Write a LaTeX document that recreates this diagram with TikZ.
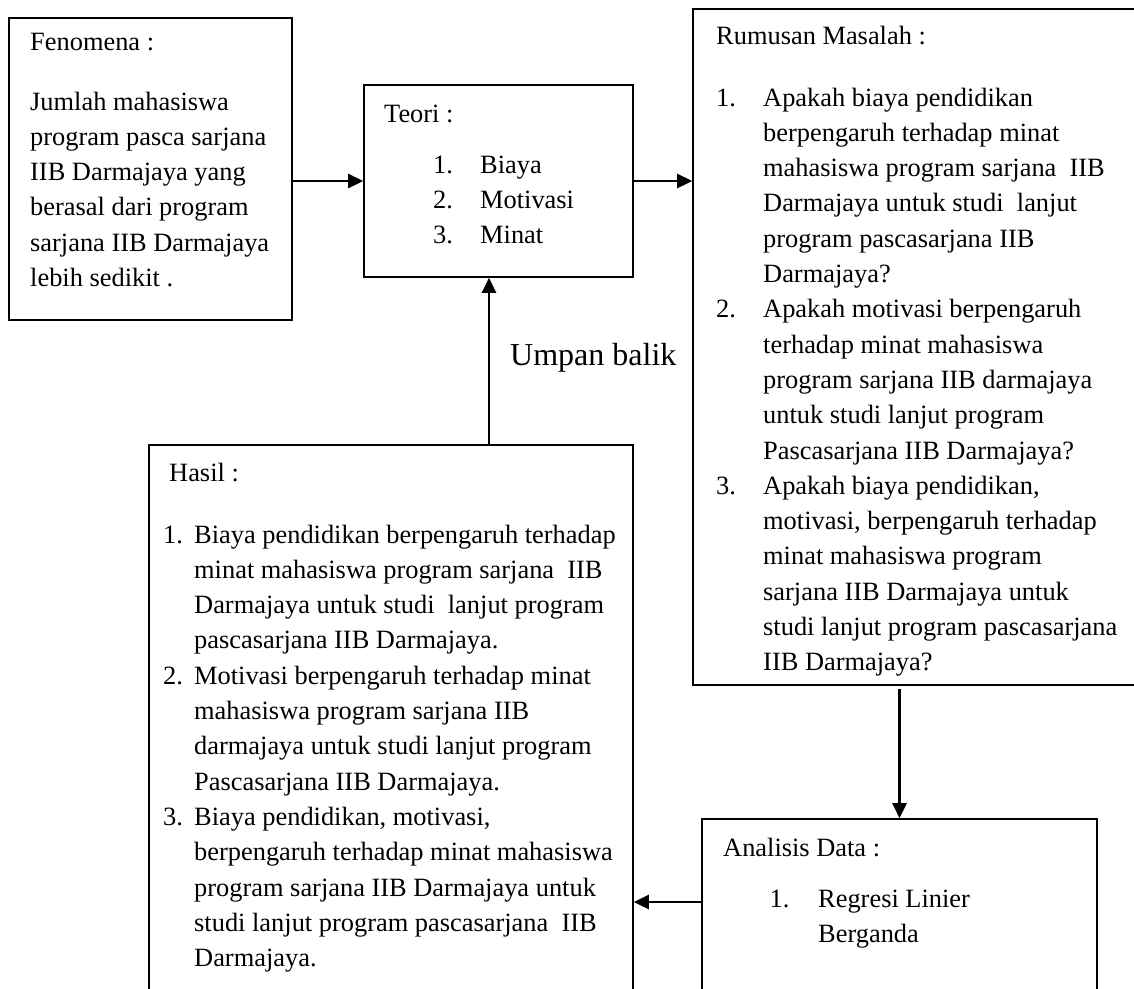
\documentclass[tikz,border=0pt]{standalone}
\usepackage{fontspec}
\setmainfont{Liberation Serif}
\usepackage{tikz}
\usetikzlibrary{arrows.meta}
\usetikzlibrary{calc}

\begin{document}
\begin{tikzpicture}[x=1pt,y=-1pt,
  box/.style={draw=black, line width=1.6pt, inner sep=0pt},
  txt/.style={anchor=base west, inner sep=0pt, font=\fontsize{26.4}{35.3}\selectfont},
  conn/.style={line width=2.6pt, -{Triangle[length=15pt,width=14pt]}}]
  \useasboundingbox (0,0) rectangle (1134,988);
  \clip (0,0) rectangle (1134,988);
  \fill[white] (0,0) rectangle (1134,988);
%% boxes
  \node[box, minimum width=283pt, minimum height=302pt] (feno) at (150.5,169) {};
  \node[box, minimum width=269pt, minimum height=192pt] (teori) at (498.5,181) {};
  \node[box, minimum width=480pt, minimum height=676pt] (rumusan) at (933,347) {};
  \node[box, minimum width=484pt, minimum height=570pt] (hasil) at (391,730) {};
  \node[box, minimum width=395pt, minimum height=200pt] (analisis) at (899.5,919) {};
%% arrows
  \draw[conn] (teori.west -| feno.east) -- (teori.west);
  \draw[conn] (teori.east) -- (teori.east -| rumusan.west);
  \draw[conn] ([yshift=-3pt]analisis.north |- rumusan.south) -- (analisis.north);
  \draw[conn] ([yshift=17pt]analisis.west) -- ([yshift=17pt]analisis.west -| hasil.east);
  \draw[conn] ([xshift=98pt]hasil.north) -- ([xshift=98pt]hasil.north |- teori.south);
  \node[txt, font=\fontsize{32}{38}\selectfont] (umpan) at (510,365) {Umpan balik};
%% Fenomena
  \node[txt] (fenotitle) at (30,50) {Fenomena :};
  \node[txt] (fenotext) at (30,110) {\begin{tabular}[t]{@{}l@{}}
    Jumlah mahasiswa\\
    program pasca sarjana\\
    IIB Darmajaya yang\\
    berasal dari program\\
    sarjana IIB Darmajaya\\
    lebih sedikit .
  \end{tabular}};
%% Teori
  \node[txt] (teorititle) at (384,122) {Teori :};
  \node[txt] (teorilist) at (433,173) {\begin{tabular}[t]{@{}p{47pt}@{}l@{}}
    1. & Biaya\\
    2. & Motivasi\\
    3. & Minat
  \end{tabular}};
%% Rumusan Masalah
  \node[txt] (rumusantitle) at (716,44.6) {Rumusan Masalah :};
  \node[txt] (rumusanlist) at (716,106) {\begin{tabular}[t]{@{}p{47pt}@{}l@{}}
    1. & Apakah biaya pendidikan\\
       & berpengaruh terhadap minat\\
       & mahasiswa program sarjana\ \ IIB\\
       & Darmajaya untuk studi\ \ lanjut\\
       & program pascasarjana IIB\\
       & Darmajaya?\\
    2. & Apakah motivasi berpengaruh\\
       & terhadap minat mahasiswa\\
       & program sarjana IIB darmajaya\\
       & untuk studi lanjut program\\
       & Pascasarjana IIB Darmajaya?\\
    3. & Apakah biaya pendidikan,\\
       & motivasi, berpengaruh terhadap\\
       & minat mahasiswa program\\
       & sarjana IIB Darmajaya untuk\\
       & studi lanjut program pascasarjana\\
       & IIB Darmajaya?
  \end{tabular}};
%% Hasil
  \node[txt] (hasiltitle) at (169,481.6) {Hasil :};
  \node[txt] (hasillist) at (163,543) {\begin{tabular}[t]{@{}p{31pt}@{}l@{}}
    1. & Biaya pendidikan berpengaruh terhadap\\
       & minat mahasiswa program sarjana\ \ IIB\\
       & Darmajaya untuk studi\ \ lanjut program\\
       & pascasarjana IIB Darmajaya.\\
    2. & Motivasi berpengaruh terhadap minat\\
       & mahasiswa program sarjana IIB\\
       & darmajaya untuk studi lanjut program\\
       & Pascasarjana IIB Darmajaya.\\
    3. & Biaya pendidikan, motivasi,\\
       & berpengaruh terhadap minat mahasiswa\\
       & program sarjana IIB Darmajaya untuk\\
       & studi lanjut program pascasarjana\ \ IIB\\
       & Darmajaya.
  \end{tabular}};
%% Analisis Data
  \node[txt] (analisistitle) at (723,856.6) {Analisis Data :};
  \node[txt] (analisislist) at (769.5,907) {\begin{tabular}[t]{@{}p{48.5pt}@{}l@{}}
    1. & Regresi Linier\\
       & Berganda
  \end{tabular}};
\end{tikzpicture}
\end{document}
